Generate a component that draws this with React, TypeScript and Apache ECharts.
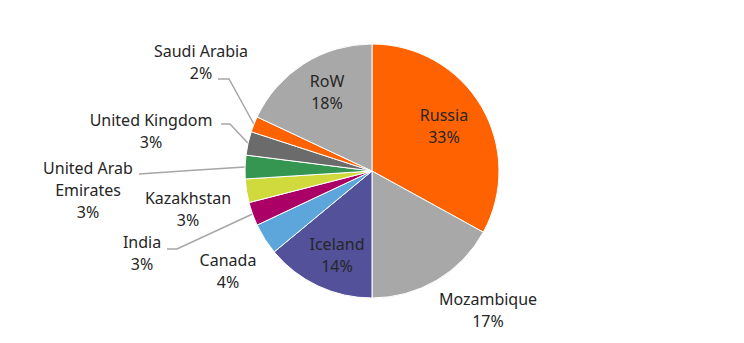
import React, { useEffect, useRef } from "react";
import * as echarts from "echarts";

const categories = [
  "Russia",
  "Mozambique",
  "Iceland",
  "Canada",
  "India",
  "Kazakhstan",
  "United Arab Emirates",
  "United Kingdom",
  "Saudi Arabia",
  "RoW",
];
const shares = [33, 17, 14, 4, 3, 3, 3, 3, 2, 18];

const sliceColors = [
  "#FF6200",
  "#A8A8A8",
  "#525199",
  "#5CA6DB",
  "#AB0066",
  "#D1DA3C",
  "#349651",
  "#6B6B6B",
  "#FF6200",
  "#A8A8A8",
];

// label centres (pixels) and leader-line bends, layout only
const labelCenters: Record<string, [number, number]> = {
  Russia: [444, 126],
  Mozambique: [488, 310],
  Iceland: [337, 255],
  Canada: [228, 271],
  India: [142, 253],
  Kazakhstan: [188, 209],
  "United Arab Emirates": [88, 190],
  "United Kingdom": [151, 131],
  "Saudi Arabia": [201, 62],
  RoW: [327, 92],
};
const leaderBends: Record<string, number[][]> = {
  "Saudi Arabia": [[229, 79], [218, 79]],
  "United Kingdom": [[230, 124], [221, 124]],
  "United Arab Emirates": [[190, 170.5], [139, 174]],
  India: [[177, 249], [167, 249]],
};

export default function App() {
  const ref = useRef<HTMLDivElement>(null);
  useEffect(() => {
    if (!ref.current) return;
    const chart = echarts.init(ref.current, undefined, { renderer: "svg" });
    const data = categories.map((name, i) => ({
      name,
      value: shares[i],
      itemStyle: { color: sliceColors[i] },
      labelLine: { show: !!leaderBends[name] },
    }));
    chart.setOption({
      animation: false,
      backgroundColor: "#ffffff",
      series: [
        {
          type: "pie",
          center: [372, 171],
          radius: 127,
          startAngle: 90,
          clockwise: true,
          avoidLabelOverlap: false,
          itemStyle: { borderColor: "#ffffff", borderWidth: 1 },
          label: {
            show: true,
            position: "outside",
            fontFamily: "Noto Sans",
            fontSize: 16,
            lineHeight: 22,
            color: "#262626",
            align: "center",
            formatter: (p: any) => {
              const n =
                p.name === "United Arab Emirates" ? "United Arab\nEmirates" : p.name;
              return `${n}\n${p.value}%`;
            },
          },
          labelLine: {
            lineStyle: { color: "#A6A6A6", width: 1.5 },
          },
          emphasis: { disabled: true },
          data,
          labelLayout: (params: any) => {
            const name = categories[params.dataIndex];
            const c = labelCenters[name];
            const res: any = {
              x: c[0],
              y: c[1],
              align: "center",
              verticalAlign: "middle",
            };
            const bends = leaderBends[name];
            if (bends && params.labelLinePoints) {
              res.labelLinePoints = [params.labelLinePoints[0], ...bends];
            }
            return res;
          },
        },
      ],
    });
    return () => chart.dispose();
  }, []);
  return (
    <div
      ref={ref}
      style={{ position: "fixed", left: 0, top: 0, width: 744, height: 343 }}
    />
  );
}
